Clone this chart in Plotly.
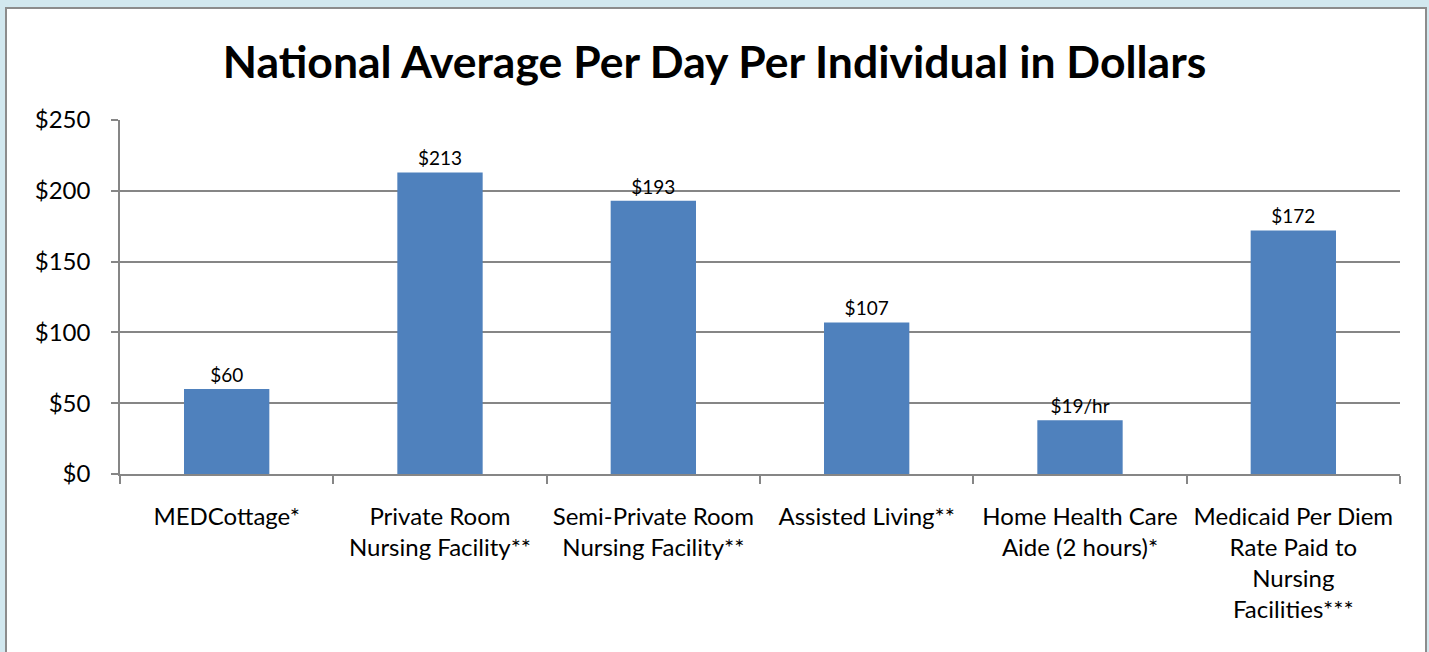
import plotly.graph_objects as go

categories = [
    "MEDCottage*",
    "Private Room<br>Nursing Facility**",
    "Semi-Private Room<br>Nursing Facility**",
    "Assisted Living**",
    "Home Health Care<br>Aide (2 hours)*",
    "Medicaid Per Diem<br>Rate Paid to<br>Nursing<br>Facilities***",
]
values = [60, 213, 193, 107, 38, 172]
value_labels = ["$60", "$213", "$193", "$107", "$19/hr", "$172"]
y_ticks = [0, 50, 100, 150, 200, 250]
y_tick_labels = ["$0", "$50", "$100", "$150", "$200", "$250"]

W, H = 1429, 652
L, R, T, B = 120, 29, 120, 178
pw, ph = W - L - R, H - T - B

def px_x(px):
    return (px - L) / pw

def px_y(py):
    return (H - B - py) / ph

FONT = "Lato"
GRID = "#868686"

fig = go.Figure(
    go.Bar(
        x=categories,
        y=values,
        text=value_labels,
        textposition="outside",
        textfont=dict(family=FONT, size=19, color="black"),
        marker=dict(color="#4F81BD", line=dict(width=0)),
        cliponaxis=False,
        hoverinfo="skip",
    )
)

fig.add_shape(
    type="rect", xref="paper", yref="paper",
    x0=px_x(6), x1=px_x(1426), y0=px_y(700), y1=px_y(8),
    fillcolor="white", line=dict(color="#8c8c8c", width=2), layer="below",
)

fig.update_layout(
    width=W, height=H,
    margin=dict(l=L, r=R, t=T, b=B, pad=0),
    paper_bgcolor="#d2e8ef",
    plot_bgcolor="rgba(0,0,0,0)",
    bargap=0.6,
    showlegend=False,
    title=dict(
        text="<b>National Average Per Day Per Individual in Dollars</b>",
        x=0.5, xanchor="center", xref="container",
        y=1 - 62 / H, yanchor="middle",
        font=dict(family=FONT, size=44.5, color="black"),
    ),
    font=dict(family=FONT, color="black"),
)

fig.update_xaxes(
    type="category",
    showline=True, linecolor=GRID, linewidth=2,
    ticks="outside", tickson="boundaries", ticklen=8, tickcolor=GRID, tickwidth=1.5,
    showgrid=False,
    tickfont=dict(family=FONT, size=24, color="black"),
    ticklabelstandoff=20,
)

fig.update_yaxes(
    range=[0, 250],
    tickmode="array",
    tickvals=y_ticks,
    ticktext=y_tick_labels,
    showline=True, linecolor=GRID, linewidth=1.5,
    ticks="outside", ticklen=7, tickcolor=GRID, tickwidth=1.5,
    showgrid=True, gridcolor=GRID, gridwidth=1.5,
    zeroline=False,
    tickfont=dict(family=FONT, size=24, color="black"),
    ticklabelstandoff=16,
)

fig.write_html(
    "out.html",
    config={"displayModeBar": False},
    post_script="document.body.style.margin='0';",
)
